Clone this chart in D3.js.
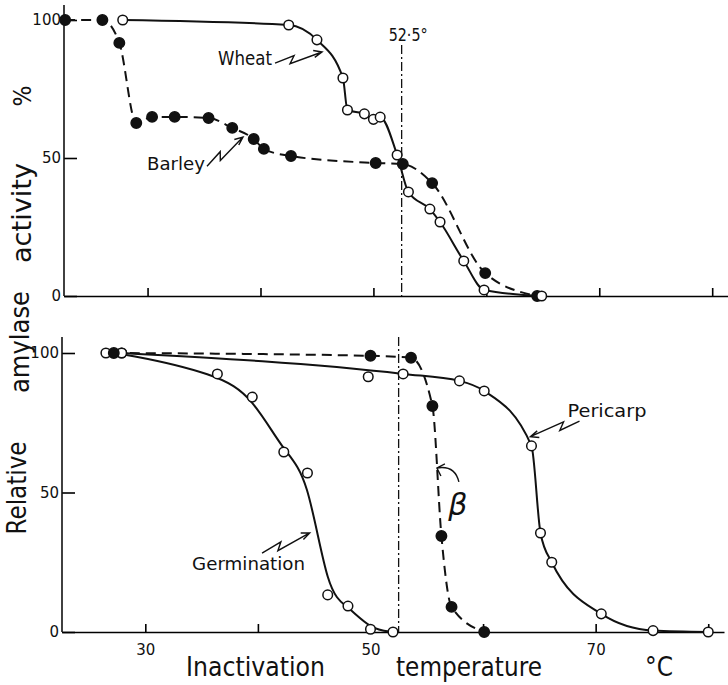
<!DOCTYPE html>
<html>
<head>
<meta charset="utf-8">
<script src="https://cdn.jsdelivr.net/npm/d3@7"></script>
<style>
  body { margin: 0; background: #fff; }
  svg { display: block; }
  text { font-family: 'DejaVu Sans', sans-serif; fill: #111; }
</style>
</head>
<body>
<div id="chart"></div>
<script>
// top panel: wheat vs barley
const tempBarley = [22.7, 26.0, 27.5, 29.0, 30.4, 32.4, 35.4, 37.5, 39.4, 40.3, 42.7, 50.2, 52.6, 55.2, 59.9, 64.5];
const actBarley  = [100, 100, 91.7, 62.7, 64.9, 64.9, 64.5, 60.9, 56.9, 53.3, 50.7, 48.2, 47.8, 40.9, 8.3, 0];
const tempWheat  = [27.8, 42.5, 45.0, 47.3, 47.7, 49.2, 50.0, 50.6, 52.1, 53.1, 55.0, 55.9, 58.0, 59.8, 64.9];
const actWheat   = [100, 98.2, 92.8, 79, 67.4, 66, 64, 64.8, 51.1, 37.7, 31.5, 26.8, 12.7, 2.2, 0];

// bottom panel: germination, pericarp, beta
const tempGerm = [26.5, 27.9, 36.4, 39.5, 42.3, 44.4, 46.2, 48.0, 50.0, 52.0];
const actGerm  = [100, 100, 92.5, 84.2, 64.5, 57, 13.3, 9.3, 1, 0];
const tempPeri = [27.9, 52.9, 57.9, 60.1, 64.3, 65.1, 66.1, 70.5, 75.1, 80.0];
const actPeri  = [100, 92.5, 90, 86.4, 66.7, 35.5, 25, 6.5, 0.5, 0];
// pericarp reading that lies off the drawn curve
const tempPeriOff = [49.8];
const actPeriOff  = [91.5];
const tempBeta = [27.2, 50.0, 53.6, 55.5, 56.3, 57.2, 60.1];
const actBeta  = [100, 99, 98.3, 81, 34.4, 9, 0];

const xTicks = [30, 40, 50, 60, 70, 80];
const xTickLabels = [30, 50, 70];
const yTicks = [0, 50, 100];
const cutoffTemp = 52.5;

const width = 728, height = 685;

const svg = d3.select('#chart').append('svg')
  .attr('width', width)
  .attr('height', height);

svg.append('rect').attr('width', width).attr('height', height).attr('fill', '#fff');

const xTop = d3.scaleLinear().domain([22.6, 81.4]).range([64, 728]);
const yTop = d3.scaleLinear().domain([0, 100]).range([296, 20]);
const xBot = d3.scaleLinear().domain([22.6, 81.4]).range([62, 724]);
const yBot = d3.scaleLinear().domain([0, 100]).range([632, 353]);

const zip = (xs, ys) => xs.map((x, i) => [x, ys[i]]);

function drawAxes(x, y, yAxisTop, showXLabels) {
  const g = svg.append('g');
  const xa = d3.axisBottom(x)
    .tickValues(xTicks)
    .tickSizeInner(-8)
    .tickSizeOuter(0)
    .tickPadding(12)
    .tickFormat(d => showXLabels && xTickLabels.includes(d) ? d : '');
  const gx = g.append('g').attr('transform', `translate(0,${y(0)})`).call(xa);
  gx.select('.domain').attr('stroke-width', 1.6);
  gx.selectAll('.tick line').attr('stroke-width', 1.6);
  gx.selectAll('.tick text').attr('font-size', 15).attr('font-family', "'DejaVu Sans', sans-serif");

  const ya = d3.axisLeft(y)
    .tickValues(yTicks)
    .tickSizeInner(-13)
    .tickSizeOuter(0)
    .tickPadding(3)
    .tickFormat(d => d);
  const gy = g.append('g').attr('transform', `translate(${x.range()[0]},0)`).call(ya);
  gy.select('.domain').remove();
  gy.selectAll('.tick line').attr('stroke-width', 1.6);
  gy.selectAll('.tick text').attr('font-size', 15).attr('font-family', "'DejaVu Sans', sans-serif");
  g.append('line')
    .attr('x1', x.range()[0]).attr('x2', x.range()[0])
    .attr('y1', yAxisTop).attr('y2', y(0))
    .attr('stroke', '#111').attr('stroke-width', 1.6);
}

drawAxes(xTop, yTop, 5, false);
drawAxes(xBot, yBot, 337, true);

// cutoff line at 52.5
svg.append('line')
  .attr('x1', xTop(cutoffTemp)).attr('x2', xTop(cutoffTemp))
  .attr('y1', 45).attr('y2', yTop(0))
  .attr('stroke', '#111').attr('stroke-width', 1.3)
  .attr('stroke-dasharray', '9,3,2,3');
svg.append('line')
  .attr('x1', xBot(cutoffTemp)).attr('x2', xBot(cutoffTemp))
  .attr('y1', 337).attr('y2', yBot(0))
  .attr('stroke', '#111').attr('stroke-width', 1.3)
  .attr('stroke-dasharray', '9,3,2,3');

function drawSeries(x, y, pts, dashed, curve) {
  const line = d3.line()
    .x(d => x(d[0]))
    .y(d => y(d[1]))
    .curve(curve || d3.curveMonotoneX);
  svg.append('path')
    .datum(pts)
    .attr('d', line)
    .attr('fill', 'none')
    .attr('stroke', '#111')
    .attr('stroke-width', 2)
    .attr('stroke-dasharray', dashed ? '10,6' : null);
}

function drawDots(x, y, pts, filled) {
  svg.append('g').selectAll('circle')
    .data(pts)
    .enter().append('circle')
    .attr('cx', d => x(d[0]))
    .attr('cy', d => y(d[1]))
    .attr('r', filled ? 5.2 : 4.8)
    .attr('fill', filled ? '#111' : '#fff')
    .attr('stroke', '#111')
    .attr('stroke-width', 1.5);
}

const barley = zip(tempBarley, actBarley);
const wheat = zip(tempWheat, actWheat);
drawSeries(xTop, yTop, barley, true);
drawSeries(xTop, yTop, wheat, false);
drawDots(xTop, yTop, barley, true);
drawDots(xTop, yTop, wheat, false);

const germ = zip(tempGerm, actGerm);
const peri = zip(tempPeri, actPeri);
const beta = zip(tempBeta, actBeta);
// germination is a hand-fitted smooth curve through scattered points
drawSeries(xBot, yBot, germ, false, d3.curveBasis);
drawSeries(xBot, yBot, peri, false);
drawSeries(xBot, yBot, beta, true);
drawDots(xBot, yBot, germ, false);
drawDots(xBot, yBot, peri, false);
drawDots(xBot, yBot, zip(tempPeriOff, actPeriOff), false);
drawDots(xBot, yBot, beta, true);

// text helper
function txt(s, x, y, size, len, rot) {
  const t = svg.append('text').attr('font-size', size).text(s);
  if (rot) {
    t.attr('transform', `translate(${x},${y}) rotate(-90)`).attr('text-anchor', 'middle');
  } else {
    t.attr('x', x).attr('y', y);
  }
  if (len) t.attr('textLength', len).attr('lengthAdjust', 'spacingAndGlyphs');
  return t;
}

// lightning-style arrow
function zigArrow(x0, y0, x1, y1) {
  const dx = x1 - x0, dy = y1 - y0, L = Math.hypot(dx, dy);
  const ux = dx / L, uy = dy / L, nx = -uy, ny = ux;
  const a = [x0 + ux * L * 0.42 - nx * 3, y0 + uy * L * 0.42 - ny * 3];
  const b = [x0 + ux * L * 0.30 + nx * 4, y0 + uy * L * 0.30 + ny * 4];
  const p = d3.path();
  p.moveTo(x0, y0); p.lineTo(a[0], a[1]); p.lineTo(b[0], b[1]); p.lineTo(x1, y1);
  const ang = Math.atan2(dy, dx), h = 9, s = 0.4;
  p.moveTo(x1 - h * Math.cos(ang - s), y1 - h * Math.sin(ang - s));
  p.lineTo(x1, y1);
  p.lineTo(x1 - h * Math.cos(ang + s), y1 - h * Math.sin(ang + s));
  svg.append('path').attr('d', p.toString())
    .attr('fill', 'none').attr('stroke', '#111').attr('stroke-width', 1.4);
}

// series labels
txt('Wheat', xTop(36.24), yTop(83.7), 19, 54);
zigArrow(xTop(36.24) + 57, yTop(84.4), xTop(45.45), yTop(88.4));
txt('Barley', xTop(29.95), yTop(45.7), 18, 58);
zigArrow(xTop(29.95) + 60, yTop(47), xTop(38.45), yTop(57.6));
txt('52\u00b75\u00b0', xTop(cutoffTemp) - 13, yTop(92.4), 18, 39);

txt('Germination', xBot(34.15), yBot(22.2), 18, 113);
zigArrow(xBot(34.15) + 70, yBot(28.3), xBot(44.6), yBot(35.5));
txt('Pericarp', xBot(67.5), yBot(77.1), 17, 79);
zigArrow(xBot(67.5) + 12, yBot(75.6), xBot(64.2), yBot(70));

// beta label with curved arrow
svg.append('text')
  .attr('x', xBot(56.9)).attr('y', yBot(41.9))
  .attr('font-size', 30).attr('font-style', 'italic')
  .attr('font-family', "'DejaVu Serif', serif")
  .text('\u03b2');
{
  const x1 = xBot(55.9), y1 = yBot(58.8), x0 = x1 + 22, y0 = y1 + 14;
  const p = d3.path();
  p.moveTo(x0, y0);
  p.quadraticCurveTo(x0 - 4, y1 - 3, x1, y1);
  p.moveTo(x1 + 8, y1 - 4); p.lineTo(x1, y1); p.lineTo(x1 + 4, y1 + 8);
  svg.append('path').attr('d', p.toString())
    .attr('fill', 'none').attr('stroke', '#111').attr('stroke-width', 1.4);
}

// axis titles
txt('%', 31, 96, 25, 21, true);
txt('activity', 31, 213, 26, 100, true);
txt('amylase', 29, 342, 26, 102, true);
txt('Relative', 26, 488, 26, 93, true);
txt('Inactivation', 186, 676, 27, 139);
txt('temperature', 396, 676, 27, 146);
txt('\u00b0C', 645, 676, 27, 28);
</script>
</body>
</html>
